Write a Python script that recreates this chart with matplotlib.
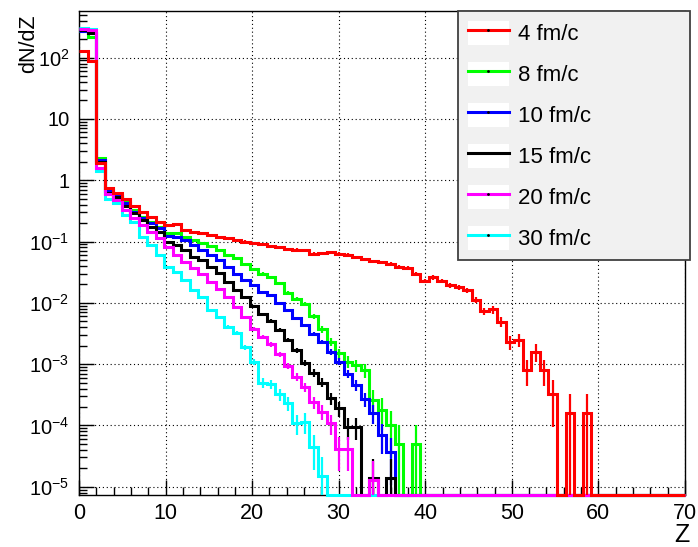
import numpy as np
import matplotlib
matplotlib.use("Agg")
import matplotlib.pyplot as plt
from matplotlib.patches import Patch
from matplotlib.lines import Line2D
from matplotlib.legend_handler import HandlerTuple
from matplotlib.ticker import MultipleLocator, LogLocator, FuncFormatter, NullFormatter

plt.rcParams['font.family'] = ['Liberation Sans', 'DejaVu Sans']
plt.rcParams['mathtext.fontset'] = 'custom'
plt.rcParams['mathtext.rm'] = 'Liberation Sans'
plt.rcParams['mathtext.it'] = 'Liberation Sans:italic'
plt.rcParams['mathtext.bf'] = 'Liberation Sans:bold'

# ---------------- data ----------------
z_min, z_max, n_bins = 0, 70, 71

labels = ['4 fm/c', '8 fm/c', '10 fm/c', '15 fm/c', '20 fm/c', '30 fm/c']
colors = ['#ff0000', '#00ff00', '#0000ff', '#000000', '#ff00ff', '#00ffff']

red_4 = [130, 88, 1.9, 0.74, 0.61, 0.487, 0.379, 0.306, 0.254, 0.21,
         0.186, 0.19, 0.154, 0.145, 0.140, 0.128, 0.12, 0.112, 0.106, 0.10,
         0.093, 0.090, 0.084, 0.081, 0.076, 0.074, 0.072, 0.063, 0.065, 0.068,
         0.063, 0.061, 0.055, 0.051, 0.048, 0.046, 0.043, 0.039, 0.037, 0.030,
         0.023, 0.026, 0.023, 0.0195, 0.0178, 0.016, 0.0113, 0.0073, 0.0078, 0.0049,
         0.0023, 0.0025, 0.0008, 0.0016, 0.0008, 0.00032, 0, 0.00016, 0, 0.00016,
         0, 0, 0, 0, 0, 0, 0, 0, 0, 0,
         0]

green_8 = [270, 220, 2.27, 0.68, 0.58, 0.446, 0.326, 0.254, 0.21, 0.175,
           0.139, 0.139, 0.12, 0.106, 0.093, 0.083, 0.073, 0.061, 0.053, 0.043,
           0.035, 0.030, 0.026, 0.021, 0.0145, 0.0115, 0.0095, 0.006, 0.0037, 0.0023,
           0.0015, 0.0011, 0.00095, 0.0008, 0.00026, 0.00018, 0.0001, 5e-5, 0, 5e-5,
           0, 0, 0, 0, 0, 0, 0, 0, 0, 0,
           0, 0, 0, 0, 0, 0, 0, 0, 0, 0,
           0, 0, 0, 0, 0, 0, 0, 0, 0, 0,
           0]

blue_10 = [275, 250, 2.1, 0.66, 0.55, 0.418, 0.306, 0.239, 0.198, 0.164,
           0.123, 0.12, 0.106, 0.0875, 0.073, 0.060, 0.049, 0.039, 0.030, 0.024,
           0.0195, 0.0152, 0.0134, 0.0098, 0.0075, 0.0056, 0.0043, 0.0031, 0.0023, 0.0016,
           0.0011, 0.0007, 0.00045, 0.00027, 0.00016, 7e-5, 3.7e-5, 0, 0, 0,
           0, 0, 0, 0, 0, 0, 0, 0, 0, 0,
           0, 0, 0, 0, 0, 0, 0, 0, 0, 0,
           0, 0, 0, 0, 0, 0, 0, 0, 0, 0,
           0]

black_15 = [280, 255, 1.95, 0.62, 0.53, 0.38, 0.288, 0.224, 0.175, 0.145,
            0.099, 0.0875, 0.0726, 0.0565, 0.049, 0.039, 0.031, 0.022, 0.0162, 0.0123,
            0.0089, 0.0066, 0.0051, 0.0036, 0.0025, 0.0017, 0.00105, 0.00072, 0.0005, 0.00028,
            0.00019, 9.5e-5, 9.5e-5, 0, 1.4e-5, 0, 1.4e-5, 0, 0, 0,
            0, 0, 0, 0, 0, 0, 0, 0, 0, 0,
            0, 0, 0, 0, 0, 0, 0, 0, 0, 0,
            0, 0, 0, 0, 0, 0, 0, 0, 0, 0,
            0]

magenta_20 = [290, 280, 1.6, 0.60, 0.47, 0.326, 0.239, 0.186, 0.145, 0.112,
              0.082, 0.06, 0.047, 0.0365, 0.029, 0.022, 0.017, 0.0126, 0.0086, 0.0059,
              0.0038, 0.0028, 0.0021, 0.00146, 0.00093, 0.00062, 0.00042, 0.00024, 0.000167, 0.000108,
              4.1e-5, 4.1e-5, 0, 0, 1.3e-5, 0, 0, 0, 0, 0,
              0, 0, 0, 0, 0, 0, 0, 0, 0, 0,
              0, 0, 0, 0, 0, 0, 0, 0, 0, 0,
              0, 0, 0, 0, 0, 0, 0, 0, 0, 0,
              0]

cyan_30 = [305, 290, 1.42, 0.50, 0.42, 0.27, 0.21, 0.12, 0.0875, 0.06,
           0.039, 0.032, 0.0235, 0.016, 0.0126, 0.0076, 0.0059, 0.0041, 0.0032, 0.0019,
           0.0011, 0.0005, 0.00047, 0.00032, 0.00023, 0.00011, 0.000115, 4.5e-5, 1.5e-5, 0,
           0, 0, 0, 0, 0, 0, 0, 0, 0, 0,
           0, 0, 0, 0, 0, 0, 0, 0, 0, 0,
           0, 0, 0, 0, 0, 0, 0, 0, 0, 0,
           0, 0, 0, 0, 0, 0, 0, 0, 0, 0,
           0]

# value of one entry (count) in each histogram, used for Poisson error bars
count_unit = [1.6e-4, 5e-5, 1.85e-5, 1.4e-5, 1.3e-5, 1.5e-5]

series = [red_4, green_8, blue_10, black_15, magenta_20, cyan_30]

# ---------------- figure ----------------
W, H = 698, 547
fig = plt.figure(figsize=(W / 100, H / 100), dpi=100)
ax = fig.add_axes([79 / W, 1 - 495 / H, 606 / W, 484 / H])

ymin, ymax = 10 ** -5.135, 10 ** 2.76
edges = np.linspace(z_min, z_max, n_bins + 1)
centers = 0.5 * (edges[:-1] + edges[1:])

draw_order = [1, 2, 3, 5, 4, 0]
for z, i in enumerate(draw_order):
    v = np.array(series[i], dtype=float)
    shown = np.where(v > 0, v, ymin)
    ax.stairs(shown, edges, baseline=None, color=colors[i], lw=2.2,
              clip_on=False, zorder=3 + z)
    err = np.sqrt(v / count_unit[i]) * count_unit[i]
    m = v > 0
    lo = np.maximum(v - err, ymin)
    ax.vlines(centers[m], lo[m], (v + err)[m], color=colors[i], lw=1.6,
              zorder=3 + z)

ax.set_xlim(z_min, z_max)
ax.set_yscale('log')
ax.set_ylim(ymin, ymax)

ax.xaxis.set_major_locator(MultipleLocator(10))
ax.xaxis.set_minor_locator(MultipleLocator(2))
ax.yaxis.set_major_locator(LogLocator(base=10, numticks=20))
ax.yaxis.set_minor_locator(LogLocator(base=10, subs=np.arange(2, 10), numticks=20))
ax.yaxis.set_minor_formatter(NullFormatter())


def yfmt(y, pos):
    e = int(round(np.log10(y)))
    if e == 0:
        return '1'
    if e == 1:
        return '10'
    return '10$^{%d}$' % e


ax.yaxis.set_major_formatter(FuncFormatter(yfmt))

ax.tick_params(which='both', direction='in', top=False, right=False,
               width=1, color='black')
ax.tick_params(axis='x', labelsize=15.5)
ax.tick_params(axis='y', labelsize=14.5)
ax.tick_params(which='major', length=11)
ax.tick_params(which='minor', length=6)
ax.tick_params(axis='y', which='major', pad=7)
ax.tick_params(axis='x', which='major', pad=6)

ax.grid(True, which='major', color='black', linestyle=(0, (1, 2.5)), lw=0.8)
ax.set_axisbelow(True)
for s in ax.spines.values():
    s.set_linewidth(1.0)
    s.set_color('black')

ax.set_ylabel('dN/dZ', fontsize=15.5, loc='top')
ax.yaxis.set_label_coords(-0.066, 0.992)
ax.set_xlabel('Z', fontsize=18, loc='right')
ax.xaxis.set_label_coords(1.008, -0.057)

handles = []
for i in range(len(labels)):
    box = Patch(facecolor='white', edgecolor='none')
    ln = Line2D([], [], color=colors[i], lw=2.2, marker='o', ms=1.0,
                mfc='black', mec='black')
    handles.append((box, ln))

leg = fig.legend(handles, labels, loc='upper left',
                 bbox_to_anchor=(458 / W, 1 - 256 / H, 232 / W, 245 / H),
                 bbox_transform=fig.transFigure, mode='expand',
                 borderaxespad=0, fontsize=16, handlelength=1.85,
                 handleheight=1.3, labelspacing=0.74, handletextpad=0.42,
                 borderpad=0.43, fancybox=False, framealpha=1,
                 facecolor='#f1f1f1', edgecolor='#404040',
                 handler_map={tuple: HandlerTuple(ndivide=1, pad=0)})
leg.get_frame().set_linewidth(1.3)
leg.set_zorder(20)

fig.savefig('out.png', dpi=100)
